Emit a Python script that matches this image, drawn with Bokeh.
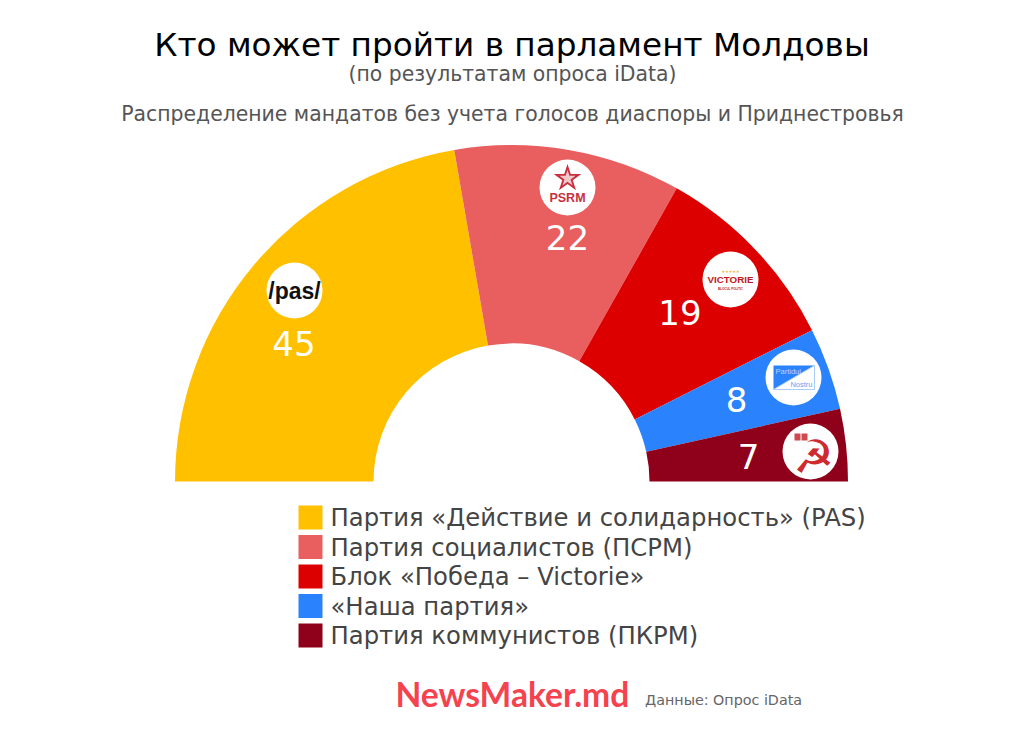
from math import pi
from bokeh.plotting import figure
from bokeh.models import Range1d
from bokeh.core.properties import value
from bokeh.embed import file_html
from bokeh.resources import INLINE

# ---- data ----
parties = ["Партия «Действие и солидарность» (PAS)", "Партия социалистов (ПСРМ)",
           "Блок «Победа – Victorie»", "«Наша партия»", "Партия коммунистов (ПКРМ)"]
seats = [45, 22, 19, 8, 7]
colors = ["#FFC000", "#E95F5F", "#DC0000", "#2A83FC", "#8F001A"]

title = "Кто может пройти в парламент Молдовы"
subtitle = "(по результатам опроса iData)"
heading = "Распределение мандатов без учета голосов диаспоры и Приднестровья"
brand = "NewsMaker.md"
source = "Данные: Опрос iData"

# ---- layout (reference page pixels, y measured from the top) ----
CX, CY, R_OUT, R_IN = 511, 481, 336.5, 138
label_xy = [(293.5, 343), (567, 237), (679.5, 312), (736, 399), (748, 456)]
logo_xy = [(294, 290), (567, 187), (730, 279), (793, 377), (810, 451)]
LOGO_R = 28
DJ = value("DejaVu Sans")
LS = value("Liberation Sans")


def Y(y):
    return 737 - y


p = figure(width=1020, height=733, output_backend="svg", toolbar_location=None,
           x_range=Range1d(0, 1020), y_range=Range1d(4, 737),
           min_border=0, outline_line_color=None, background_fill_color="white")
p.axis.visible = False
p.grid.visible = False


def txt(x, y, s, size, color="#000000", font=DJ, style="normal", align="center"):
    p.text([x], [Y(y)], text=[s], text_font=font, text_font_size=f"{size}px", text_color=color,
           text_font_style=style, text_align=align, text_baseline="middle")


# hemicycle
total = sum(seats)
start = pi
for n, c in zip(seats, colors):
    end = start - n / total * pi
    p.annular_wedge([CX], [Y(CY)], inner_radius=R_IN, outer_radius=R_OUT, start_angle=end, end_angle=start,
                    fill_color=c, line_color=None)
    start = end

# counts
for (x, y), n in zip(label_xy, seats):
    txt(x, y, str(n), 34, "#FFFFFF")

# logo discs
p.circle([x for x, y in logo_xy], [Y(y) for x, y in logo_xy], radius=LOGO_R, fill_color="#FFFFFF", line_color=None)

# /pas/
txt(294, 290, "/pas/", 23, "#111111", LS, "bold")
# PSRM
p.scatter([567], [Y(178)], marker="star", size=29, fill_color="#C9303F", line_color=None)
p.scatter([567], [Y(178)], marker="star", size=17, fill_color="#F3C6CA", line_color=None)
txt(567, 197, "PSRM", 12.5, "#C9303F", LS, "bold")
# Victorie
txt(730, 271, "★★★★★", 4, "#F2B632")
txt(730, 279, "VICTORIE", 9.8, "#C4161C", LS, "bold")
txt(730, 288, "BLOCUL POLITIC", 3, "#C4161C", LS, "bold")
# Partidul Nostru
p.patch([773, 814, 773], [Y(365), Y(365), Y(389)], fill_color="#2A83FC", line_color=None)
p.patch([814, 814, 773], [Y(365), Y(389), Y(389)], fill_color="#FFFFFF", line_color="#A9CCFB", line_width=1)
txt(775, 371, "Partidul", 7.5, "#BBD6FC", LS, align="left")
txt(812, 384, "Nostru", 7.5, "#5E9FF8", LS, align="right")
# PKRM
txt(813, 456, "☭", 46, "#CE2A2F", DJ, "bold")
p.rect([797, 804], [Y(436.5), Y(436.5)], width=6, height=7, fill_color="#CE4A50", line_color=None)

# titles
txt(511.5, 44, title, 32.7)
txt(512, 73.5, subtitle, 20.4, "#555555")
txt(512, 113, heading, 20.4, "#555555")

# legend
for i, (name, c) in enumerate(zip(parties, colors)):
    y = 517 + i * 29.5
    p.rect([310], [Y(y)], width=24, height=24, fill_color=c, line_color=None)
    txt(330, y, name, 24.3, "#444444", align="left")

# footer
txt(395, 693, brand, 33.6, "#F4434F", value("Lato"), "bold", "left")
txt(644.5, 699.5, source, 14.3, "#666666", align="left")

open("out.html", "w").write(file_html(p, INLINE))
